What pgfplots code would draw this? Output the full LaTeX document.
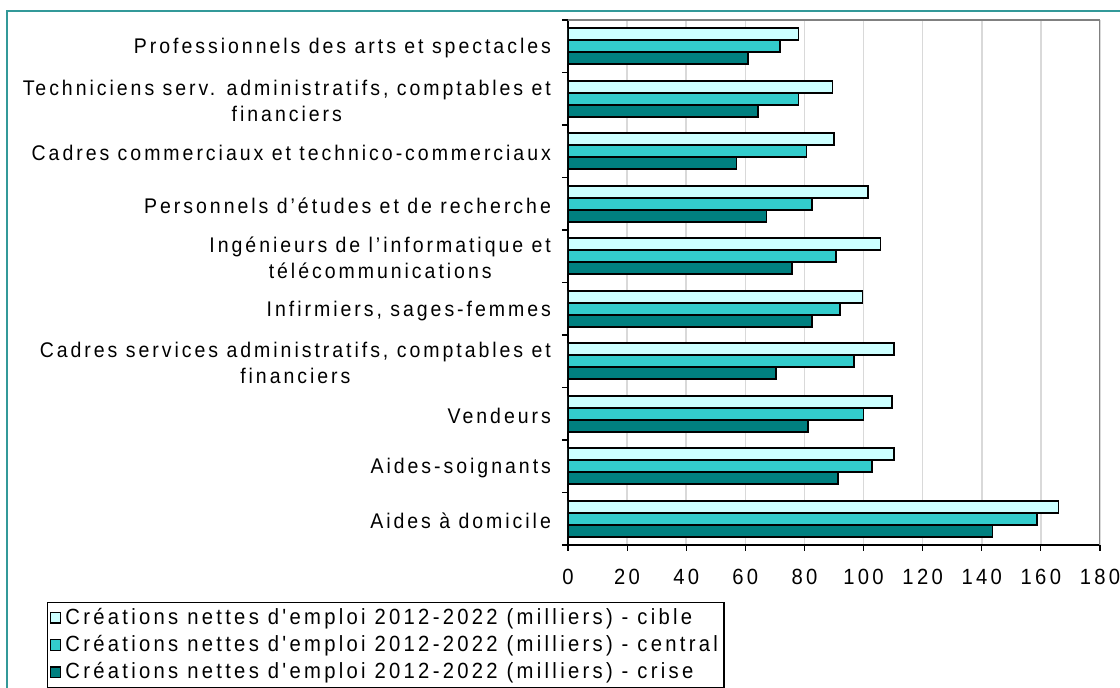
\documentclass[border=0pt]{standalone}
\usepackage{fontspec}
\setmainfont{Liberation Sans}[FakeStretch=0.92,LetterSpace=15,Ligatures=TeXOff]
\usepackage{pgfplots}
\pgfplotsset{compat=1.18}
\definecolor{cible}{RGB}{204,255,255}
\definecolor{central}{RGB}{51,204,204}
\definecolor{crise}{RGB}{0,128,128}
\definecolor{cadre}{RGB}{51,153,153}
\definecolor{grille}{RGB}{217,217,217}

\begin{document}
\begin{tikzpicture}
\path[use as bounding box] (-284pt,-71.5pt) rectangle (276pt,272.5pt);
\draw[cadre, line width=1pt] (-280.5pt,-90pt) rectangle (300pt,267pt);
\begin{axis}[
  at={(0,0)}, anchor=south west,
  width=266pt, height=262.5pt, scale only axis,
  axis lines=left,
  axis line style={-, black, line width=0.8pt},
  xmin=0, xmax=180, ymin=-0.5, ymax=9.5,
  enlargelimits=false,
  xtick={0,20,...,180},
  tick align=outside,
  major tick length=3pt,
  tick style={black, line width=0.6pt},
  xmajorgrids,
  grid style={grille, line width=0.8pt},
  ytick={-0.5,0.5,...,9.5},
  yticklabels={},
  extra y ticks={0,...,9},
  extra y tick labels={{Aides à domicile},{Aides-soignants},{Vendeurs},
    {Cadres services administratifs, comptables et\\financiers},
    {Infirmiers, sages-femmes},
    {Ingénieurs de l’informatique et\\télécommunications},
    {Personnels d’études et de recherche},
    {Cadres commerciaux et technico-commerciaux},
    {Techniciens serv. administratifs, comptables et\\financiers},
    {Professionnels des arts et spectacles}},
  extra y tick style={major tick length=0pt},
  xticklabel style={font=\fontsize{11}{13}\selectfont, yshift=-5.5pt},
  yticklabel style={font=\fontsize{10.6}{13}\selectfont\addfontfeature{LetterSpace=14},
    align=center, xshift=-5pt, yshift=-1pt},
  /pgf/number format/assume math mode=true,
  legend style={at={(-0.979,-0.108)}, anchor=north west, draw=black,
    line width=0.6pt, font=\fontsize{11}{12.3}\selectfont,
    inner sep=1pt, row sep=0pt},
  legend cell align=left,
  legend image code/.code={\draw[#1, line width=0.6pt] (0pt,-2.6pt) rectangle (5.2pt,2.6pt);},
]
\addplot[xbar, bar width=6pt, bar shift=6pt, fill=cible, draw=black, line width=0.8pt]
  coordinates {(166,0)(110.3,1)(109.7,2)(110.3,3)(99.7,4)(105.7,5)(101.6,6)(90.1,7)(89.5,8)(78,9)};
\addplot[xbar, bar width=6pt, bar shift=0pt, fill=central, draw=black, line width=0.8pt]
  coordinates {(158.6,0)(102.9,1)(100,2)(96.7,3)(92,4)(90.7,5)(82.6,6)(80.7,7)(78,8)(71.8,9)};
\addplot[xbar, bar width=6pt, bar shift=-6pt, fill=crise, draw=black, line width=0.8pt]
  coordinates {(143.6,0)(91.4,1)(81.3,2)(70.4,3)(82.6,4)(75.8,5)(67.1,6)(57,7)(64.3,8)(60.9,9)};
\legend{Créations nettes d'emploi 2012-2022 (milliers) - cible,
  Créations nettes d'emploi 2012-2022 (milliers) - central,
  Créations nettes d'emploi 2012-2022 (milliers) - crise}
\draw[gray, line width=1pt] (rel axis cs:0,1) -- (rel axis cs:1,1) -- (rel axis cs:1,0);
\end{axis}
\end{tikzpicture}
\end{document}
